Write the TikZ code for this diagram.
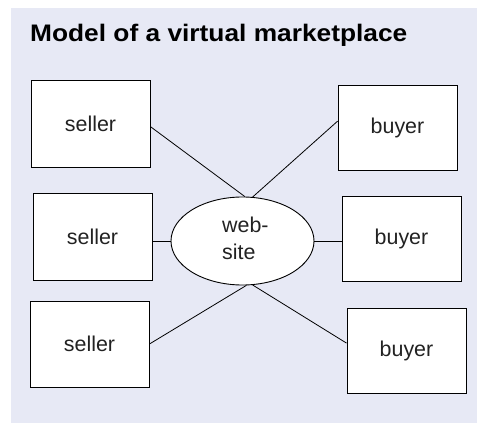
\documentclass[tikz,border=0pt]{standalone}
\usepackage{fontspec}
\setmainfont{Liberation Sans}
\usetikzlibrary{shapes.geometric}
\definecolor{panel}{RGB}{231,233,245}
\definecolor{ink}{RGB}{34,34,34}
\tikzset{
  party/.style={draw=black, line width=0.9bp, fill=white, text=ink,
    minimum width=119bp, inner sep=0pt, font=\fontsize{21.5}{25}\selectfont},
  link/.style={draw=black, line width=0.8bp},
  hub/.style={ellipse, draw=black, line width=0.9bp, fill=white,
    minimum width=143bp, minimum height=88bp, inner sep=0pt},
  hubtext/.style={anchor=base west, inner sep=0pt, text=ink,
    font=\fontsize{21.5}{26}\selectfont}
}
\begin{document}
\begin{tikzpicture}[x=1bp, y=-1bp]
  \useasboundingbox (0,0) rectangle (477,433);
  % background panel
  \fill[panel] (11,8) rectangle (477,423);
  % title
  \node[anchor=base west, inner sep=0pt, text=black,
        font=\fontsize{24}{28}\selectfont\bfseries] (title) at (30,41.7)
        {\scalebox{1.1}[1]{Model of a virtual marketplace}};
  % central web-site
  \node[hub] (web) at (242.5,241) {};
  \node[hubtext] (web1) at (222,233) {web-};
  \node[hubtext] (web2) at (222,259) {site};
  % sellers
  \node[party, minimum height=87bp] (s1) at (90.5,123.5) {seller};
  \node[party, minimum height=87bp] (s2) at (92.5,236.5) {seller};
  \node[party, minimum height=86bp] (s3) at (89.5,344) {seller};
  % buyers
  \node[party, minimum height=85bp] (b1) at (397.5,127.5) {buyer};
  \node[party, minimum height=85bp] (b2) at (401.5,238.5) {buyer};
  \node[party, minimum height=85bp] (b3) at (406.5,350.5) {buyer};
  % connections
  \draw[link] (s1.-3) -- (web.87);
  \draw[link] (b1.174) -- (web.77);
  \draw[link] (s2.east |- web.west) -- (web.west);
  \draw[link] (web.east) -- (web.east -| b2.west);
  \draw[link] (s3.east) -- (web.275);
  \draw[link] (b3.173) -- (web.283);
\end{tikzpicture}
\end{document}
